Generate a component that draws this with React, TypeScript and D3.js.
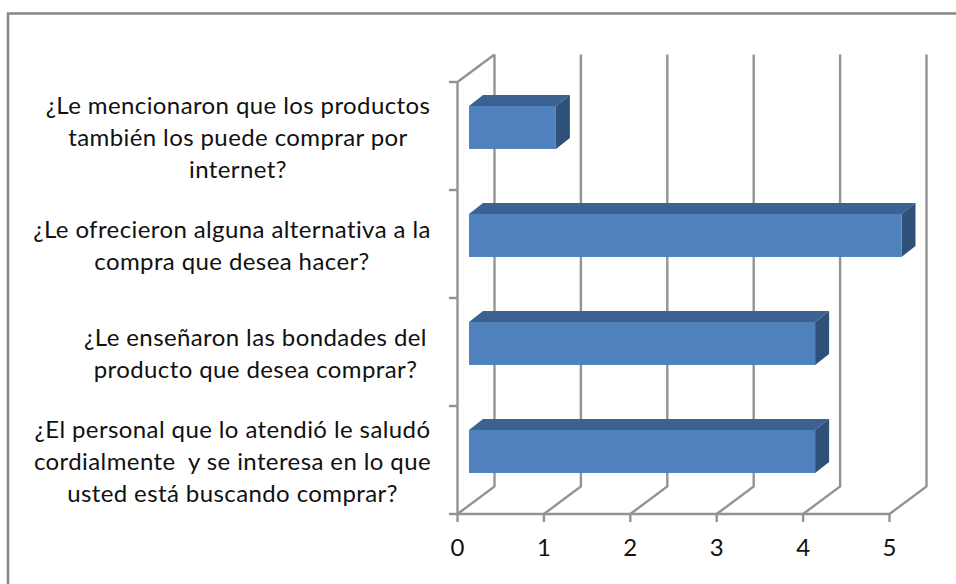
import React from "react";
import * as d3 from "d3";

const categories = [
  ["¿Le mencionaron que los productos", "también los puede comprar por", "internet?"],
  ["¿Le ofrecieron alguna alternativa a la", "compra que desea hacer?"],
  ["¿Le enseñaron las bondades del", "producto que desea comprar?"],
  ["¿El personal que lo atendió le saludó", "cordialmente  y se interesa en lo que", "usted está buscando comprar?"],
];
const values = [1, 5, 4, 4];
const ticks = [0, 1, 2, 3, 4, 5];

const FONT = "Lato, 'Open Sans', sans-serif";
const GRID = "#939393";
const FRONT = "#4f81bd";
const TOP = "#3c6292";
const SIDE = "#2f5078";
const LABEL_CENTRES = [238, 232, 255.5, 232.5];

const x = d3.scaleLinear().domain([0, 5]).range([457.5, 889.5]);
const y = d3.scaleBand<number>().domain(d3.range(categories.length)).range([82, 514]);
const wall = { dx: 37, dy: -27.5 };
const barDepth = { dx: 14, dy: -11 };
const barInset = 12;
const GRID_WIDTH = 2.4;

export default function App() {
  const line = d3.line();
  return (
    <svg width={956} height={584} style={{ position: "absolute", left: 0, top: 0, background: "#fff" }}>
      {/* chart frame: runs off the page on the right and at the bottom */}
      <rect x={8} y={13.5} width={970} height={600} fill="#fff" stroke="#868686" strokeWidth={2.5} />
      {/* back wall gridlines and their floor segments */}
      {ticks.map((t) => (
        <path
          key={t}
          d={line([
            [x(t), 514],
            [x(t) + wall.dx, 514 + wall.dy],
            [x(t) + wall.dx, 82 + wall.dy],
          ]) ?? ""}
          fill="none"
          stroke={GRID}
          strokeWidth={GRID_WIDTH}
        />
      ))}
      <path d={line([[x(0), 82], [x(0) + wall.dx, 82 + wall.dy]]) ?? ""} fill="none" stroke={GRID} strokeWidth={GRID_WIDTH} />
      {/* front axes */}
      <line x1={x(0)} x2={x(0)} y1={82} y2={514} stroke={GRID} strokeWidth={GRID_WIDTH} />
      <line x1={x(0)} x2={x(5)} y1={514} y2={514} stroke={GRID} strokeWidth={GRID_WIDTH} />
      {ticks.map((t) => (
        <g key={t}>
          <line x1={x(t)} x2={x(t)} y1={514} y2={522} stroke={GRID} strokeWidth={GRID_WIDTH} />
          <text x={x(t)} y={556} textAnchor="middle" fontFamily={FONT} fontSize={24} fill="#111">{t}</text>
        </g>
      ))}
      {[0, 1, 2, 3, 4].map((i) => {
        const yy = 82 + i * y.step();
        return <line key={i} x1={449} x2={x(0)} y1={yy} y2={yy} stroke={GRID} strokeWidth={GRID_WIDTH} />;
      })}
      {/* bars, each a box of front, top and side faces */}
      {values.map((v, i) => {
        const band = y(i) ?? 0;
        const y0 = band + y.step() * 0.222;
        const y1 = band + y.step() * 0.62;
        const x0 = x(0) + barInset - 0.5;
        const x1 = x(v) + barInset;
        const { dx, dy } = barDepth;
        return (
          <g key={i}>
            <path d={`M${x0},${y0}L${x0 + dx},${y0 + dy}L${x1 + dx},${y0 + dy}L${x1},${y0}Z`} fill={TOP} />
            <path d={`M${x1},${y0}L${x1 + dx},${y0 + dy}L${x1 + dx},${y1 + dy}L${x1},${y1}Z`} fill={SIDE} />
            <rect x={x0} y={y0} width={x1 - x0} height={y1 - y0} fill={FRONT} />
          </g>
        );
      })}
      {/* category labels, each block centred on its own column */}
      {categories.map((lines, i) => {
        const mid = (y(i) ?? 0) + y.step() / 2 - 1;
        return (
          <text key={i} textAnchor="middle" fontFamily={FONT} fontSize={24} letterSpacing={0.4} fill="#111">
            {lines.map((l, j) => (
              <tspan key={j} x={LABEL_CENTRES[i]} y={mid + (j - (lines.length - 1) / 2) * 32 + 11} style={{ whiteSpace: "pre" }}>{l}</tspan>
            ))}
          </text>
        );
      })}
    </svg>
  );
}
